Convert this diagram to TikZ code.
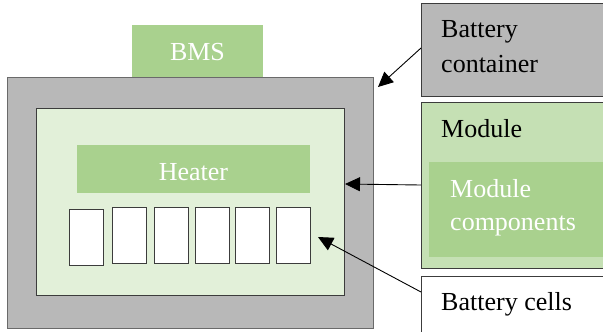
\documentclass[tikz,border=0pt]{standalone}
\usepackage{fontspec}
\setmainfont{Liberation Serif}
\newfontfamily\labelfont{Liberation Serif}
\usetikzlibrary{arrows.meta,calc}
\definecolor{casegray}{HTML}{B8B8B8}
\definecolor{edgegray}{HTML}{6A6A6A}
\definecolor{darkedge}{HTML}{3C3C3C}
\definecolor{midgreen}{HTML}{A9D18E}
\definecolor{palegreen}{HTML}{E2F0D9}
\definecolor{softgreen}{HTML}{C5E0B4}
\tikzset{
  box/.style={rectangle, inner sep=0pt, outer sep=0pt},
  lbl/.style={inner sep=0pt, anchor=base west, font=\labelfont\fontsize{26bp}{35bp}\selectfont},
  ctr/.style={inner sep=0pt, font=\labelfont\fontsize{26bp}{35bp}\selectfont, text=white},
  cellbox/.style={box, draw=darkedge, line width=0.9bp, fill=white, minimum width=34bp, minimum height=56bp},
  pointer/.style={draw=black, line width=0.9bp, -{Triangle[length=15bp,width=14bp]}}
}
\begin{document}
\begin{tikzpicture}[x=1bp,y=-1bp]
\useasboundingbox (0,0) rectangle (603,331);
\begin{scope}
\clip (0,0) rectangle (603,331);
% battery pack
\node[box, fill=midgreen, minimum width=131bp, minimum height=52bp] (bms) at (197.5,51) {};
\node[ctr] at (197.5,60) [anchor=base] {BMS};
\node[box, fill=casegray, draw=edgegray, line width=1bp, minimum width=365bp, minimum height=251bp] (case) at (190.5,202.5) {};
\node[box, fill=palegreen, draw=darkedge, line width=1bp, minimum width=307bp, minimum height=187bp] (module) at (190.5,201.5) {};
\node[box, fill=midgreen, minimum width=233bp, minimum height=48bp] (heater) at (193.5,169) {};
\node[ctr, anchor=base] at (193.5,180) {Heater};
\node[cellbox] (c1) at (86,237) {};
\node[cellbox] (c2) at (129,235) {};
\node[cellbox] (c3) at (171,235) {};
\node[cellbox] (c4) at (212,235) {};
\node[cellbox] (c5) at (252,235) {};
\node[cellbox] (c6) at (293,235) {};
% legend
\node[box, fill=casegray, draw=darkedge, line width=1bp, minimum width=199bp, minimum height=93bp] (lcase) at (520.5,49.5) {};
\node[lbl] at (441,37.5) {Battery};
\node[lbl] at (441,72.5) {container};
\node[box, fill=softgreen, draw=darkedge, line width=1bp, minimum width=199bp, minimum height=166bp] (lmodule) at (520.5,185) {};
\node[lbl] at (441,137) {Module};
\node[box, fill=midgreen, minimum width=191bp, minimum height=95bp] (lcomp) at (524.5,209.5) {};
\node[lbl, text=white] at (450,197) {Module};
\node[lbl, text=white] at (450,230) {components};
\node[box, fill=white, draw=darkedge, line width=1bp, minimum width=199bp, minimum height=64bp] (lcells) at (520.5,308) {};
\node[lbl] at (441,310) {Battery cells};
\end{scope}
% pointers
\coordinate (casetip) at (378,87);
\coordinate (moduletip) at (345,184);
\coordinate (celltip) at (318,237);
\draw[pointer] ($(lcase.west)+(0,-1.5)$) -- (casetip);
\draw[pointer] (lmodule.west) -- (moduletip);
\draw[pointer] ($(lcells.north west)+(0,16)$) -- (celltip);
\end{tikzpicture}
\end{document}
